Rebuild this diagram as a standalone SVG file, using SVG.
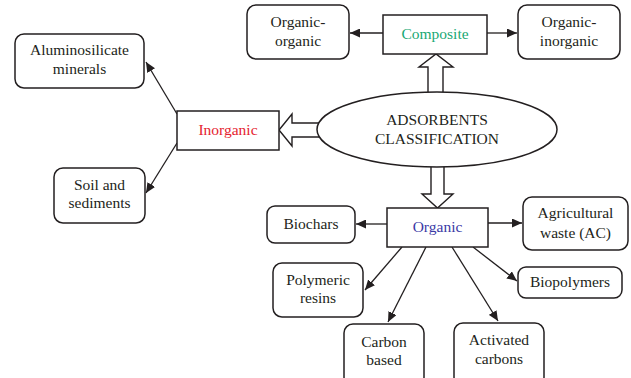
<svg xmlns="http://www.w3.org/2000/svg" width="631" height="378" viewBox="0 0 631 378">
<style>
  .box{fill:#fff;stroke:#231f20;stroke-width:1.5}
  .t{font-family:"Liberation Serif","Times New Roman",serif;font-size:15.5px;fill:#231f20;text-anchor:middle}
  .conn{stroke:#231f20;stroke-width:1.3;fill:none;marker-end:url(#ah)}
  .block{fill:#fff;stroke:#231f20;stroke-width:1.4;stroke-linejoin:miter}
</style>
<defs>
  <marker id="ah" markerUnits="userSpaceOnUse" markerWidth="11" markerHeight="9" refX="10" refY="4.5" orient="auto">
    <path d="M0,0 L10,4.5 L0,9 z" fill="#231f20"/>
  </marker>
</defs>
<rect width="631" height="378" fill="#fff"/>

<g id="connectors">
  <line class="conn" x1="383" y1="33" x2="350" y2="33"/>
  <line class="conn" x1="487" y1="33" x2="517" y2="33"/>
  <line class="conn" x1="177" y1="114" x2="146" y2="62"/>
  <line class="conn" x1="177" y1="143" x2="146" y2="193"/>
  <line class="conn" x1="387" y1="224" x2="356" y2="224"/>
  <line class="conn" x1="488" y1="223" x2="522" y2="223"/>
  <line class="conn" x1="402" y1="247" x2="365" y2="290"/>
  <line class="conn" x1="426" y1="247" x2="388" y2="322"/>
  <line class="conn" x1="452" y1="247" x2="498" y2="321"/>
  <line class="conn" x1="473" y1="247" x2="517" y2="281"/>
  <polygon class="block" points="428,100 428,67 419,67 436,54 453,67 443,67 443,100"/>
  <polygon class="block" points="431,160 431,194 422,194 437.5,208 453,194 444,194 444,160"/>
  <polygon class="block" points="330,123 292,123 292,114 279,130 292,146 292,137 330,137"/>
</g>

<g id="classification">
  <ellipse class="box" cx="437" cy="129.5" rx="120" ry="37.5"/>
  <text class="t" x="437" y="125">ADSORBENTS</text>
  <text class="t" x="437" y="144">CLASSIFICATION</text>
</g>

<g id="composite">
  <rect class="box" x="383" y="15" width="104" height="39"/>
  <text class="t" x="435" y="39" style="fill:#1aa874">Composite</text>
</g>
<g id="organic-organic">
  <rect class="box" x="247" y="5" width="102" height="54" rx="9"/>
  <text class="t" x="298" y="27">Organic-</text>
  <text class="t" x="298" y="46">organic</text>
</g>
<g id="organic-inorganic">
  <rect class="box" x="518" y="5" width="102" height="54" rx="9"/>
  <text class="t" x="569" y="27">Organic-</text>
  <text class="t" x="569" y="46">inorganic</text>
</g>

<g id="inorganic">
  <rect class="box" x="177" y="111" width="102" height="39"/>
  <text class="t" x="228" y="135" style="fill:#e52330">Inorganic</text>
</g>
<g id="aluminosilicate">
  <rect class="box" x="15" y="34" width="129" height="54" rx="9"/>
  <text class="t" x="79.5" y="55">Aluminosilicate</text>
  <text class="t" x="79.5" y="74">minerals</text>
</g>
<g id="soil">
  <rect class="box" x="54" y="168" width="91" height="55" rx="9"/>
  <text class="t" x="99.5" y="190">Soil and</text>
  <text class="t" x="99.5" y="208">sediments</text>
</g>

<g id="organic">
  <rect class="box" x="387" y="208" width="101" height="39"/>
  <text class="t" x="437.5" y="232" style="fill:#3b3aa6">Organic</text>
</g>
<g id="biochars">
  <rect class="box" x="267" y="206" width="88" height="37" rx="8"/>
  <text class="t" x="311" y="229">Biochars</text>
</g>
<g id="agricultural">
  <rect class="box" x="523" y="197" width="105" height="53" rx="9"/>
  <text class="t" x="575.5" y="218">Agricultural</text>
  <text class="t" x="575.5" y="238">waste (AC)</text>
</g>
<g id="polymeric">
  <rect class="box" x="273" y="263" width="90" height="54" rx="9"/>
  <text class="t" x="318" y="285">Polymeric</text>
  <text class="t" x="318" y="303">resins</text>
</g>
<g id="biopolymers">
  <rect class="box" x="518" y="267" width="104" height="31" rx="8"/>
  <text class="t" x="570" y="287">Biopolymers</text>
</g>
<g id="carbon-based">
  <rect class="box" x="344" y="324" width="80" height="62" rx="9"/>
  <text class="t" x="384" y="347">Carbon</text>
  <text class="t" x="384" y="365">based</text>
</g>
<g id="activated-carbons">
  <rect class="box" x="454" y="323" width="90" height="63" rx="9"/>
  <text class="t" x="499" y="345">Activated</text>
  <text class="t" x="499" y="364">carbons</text>
</g>
</svg>
